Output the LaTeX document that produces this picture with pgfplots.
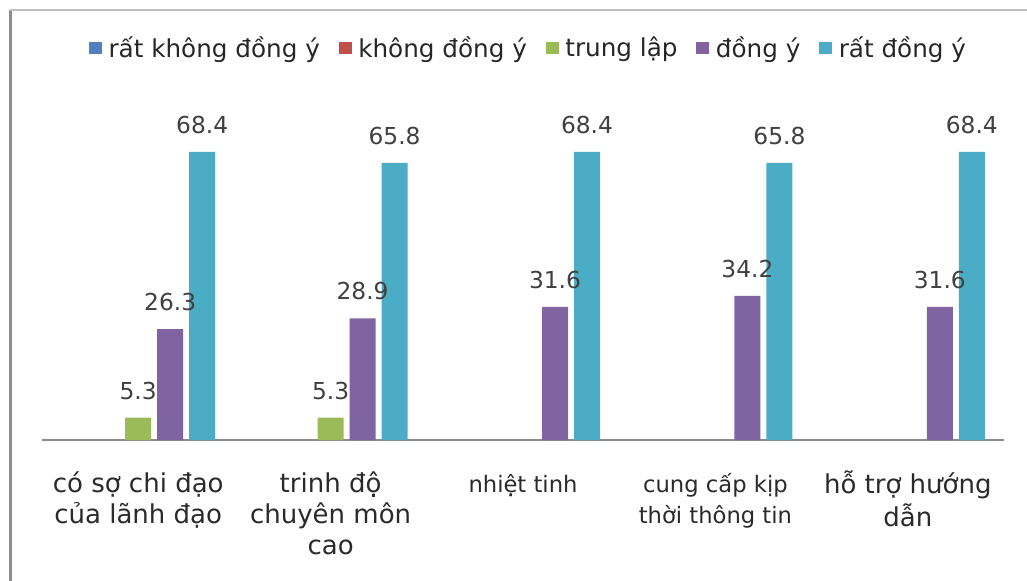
\documentclass[border=0pt]{standalone}
\usepackage{pgfplots}
\pgfplotsset{compat=1.18}
\usepackage{fontspec}
\setmainfont{DejaVu Sans}
\definecolor{c1}{HTML}{4F81BD}
\definecolor{c2}{HTML}{C0504D}
\definecolor{c3}{HTML}{9BBB59}
\definecolor{c4}{HTML}{8064A2}
\definecolor{c5}{HTML}{4BACC6}
\definecolor{txt}{HTML}{2A2A2A}
\newcommand{\bg}{\fontsize{19.5}{23.5}\selectfont}
\begin{document}
\begin{tikzpicture}
\path[use as bounding box] (0pt,0pt) rectangle (770.25pt,-435.75pt);
\draw[black!45, line width=2.2pt] (8.2pt,-7.5pt) -- (8.2pt,-440pt);
\draw[black!25, line width=0.8pt] (7.5pt,-7.5pt) -- (780pt,-7.5pt);
\begin{axis}[
  at={(31.5pt,-330pt)}, anchor=south west, scale only axis,
  width=721.5pt, height=252.75pt,
  ymin=0, ymax=80, xmin=-0.5, xmax=4.5,
  axis y line=none, axis x line*=bottom,
  x axis line style={draw=black!45, line width=1.1pt, -},
  xtick={0,1,2,3,4}, major tick length=0pt,
  typeset ticklabels with strut,
  xticklabels={{\bg có sợ chi đạo\\\bg của lãnh đạo},{\bg trinh độ\\\bg chuyên môn\\\bg cao},{nhiệt tinh},{cung cấp kịp\\thời thông tin},{\bg hỗ trợ hướng\\\bg dẫn}},
  xticklabel style={font=\fontsize{17}{23.5}\selectfont, align=center, anchor=north, inner sep=0pt, yshift=-22.5pt, text=txt},
  ybar, bar width=19.5pt,
  clip=false,
  /pgf/number format/assume math mode=true,
  nodes near coords,
  nodes near coords style={font=\fontsize{17.5}{20}\selectfont, inner sep=0pt, anchor=south, yshift=13.5pt, text=black!75},
  sq legend/.style={legend image code/.code={\fill[##1] (0pt,-4.8pt) rectangle (9.8pt,4.8pt);}},
  legend columns=5,
  legend style={at={(0.506,1.163)}, anchor=center, draw=none, fill=none, inner sep=0pt,
    font=\fontsize{18.5}{20}\selectfont, text=black!85,
    /tikz/every odd column/.append style={column sep=3pt},
    /tikz/every even column/.append style={column sep=12pt}},
]
\addlegendimage{sq legend, fill=c1, draw=none}
\addlegendentry{rất không đồng ý}
\addlegendimage{sq legend, fill=c2, draw=none}
\addlegendentry{không đồng ý}
\addplot[sq legend, fill=c3, draw=none, bar shift=0pt] coordinates {(0,5.3) (1,5.3)};
\addlegendentry{trung lập}
\addplot[sq legend, fill=c4, draw=none, bar shift=24pt] coordinates {(0,26.3) (1,28.9) (2,31.6) (3,34.2) (4,31.6)};
\addlegendentry{đồng ý}
\addplot[sq legend, fill=c5, draw=none, bar shift=48pt] coordinates {(0,68.4) (1,65.8) (2,68.4) (3,65.8) (4,68.4)};
\addlegendentry{rất đồng ý}
\end{axis}
\end{tikzpicture}
\end{document}
